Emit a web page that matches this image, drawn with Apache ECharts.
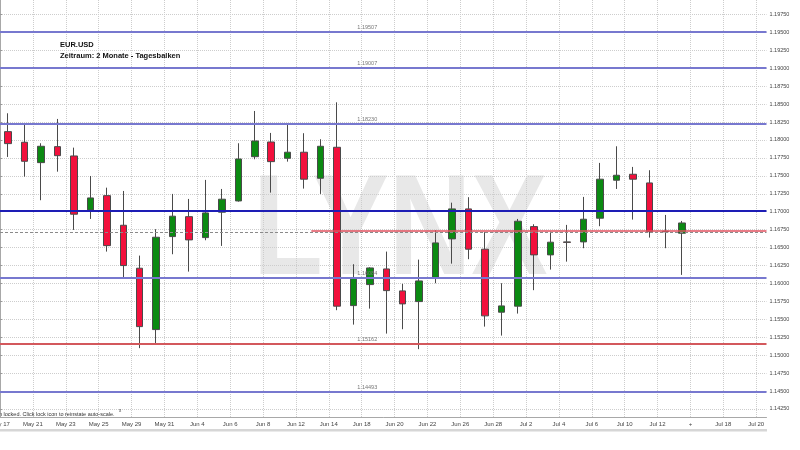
<!DOCTYPE html>
<html>
<head>
<meta charset="utf-8">
<script src="https://cdn.jsdelivr.net/npm/echarts@6/dist/echarts.min.js"></script>
<style>
  html, body { margin: 0; padding: 0; background: #fff; }
  #chart { width: 800px; height: 450px; }
</style>
</head>
<body>
<div id="chart"></div>
<script>
// trading days (daily bars)
const dates = ['May 17', 'May 18', 'May 21', 'May 22', 'May 23', 'May 24', 'May 25', 'May 28', 'May 29', 'May 30',
  'May 31', 'Jun 1', 'Jun 4', 'Jun 5', 'Jun 6', 'Jun 7', 'Jun 8', 'Jun 11', 'Jun 12', 'Jun 13',
  'Jun 14', 'Jun 15', 'Jun 18', 'Jun 19', 'Jun 20', 'Jun 21', 'Jun 22', 'Jun 25', 'Jun 26', 'Jun 27',
  'Jun 28', 'Jun 29', 'Jul 2', 'Jul 3', 'Jul 4', 'Jul 5', 'Jul 6', 'Jul 9', 'Jul 10', 'Jul 11',
  'Jul 12', 'Jul 13']
const opens = [1.18116, 1.17968, 1.17684, 1.17907, 1.17777, 1.17025, 1.17224, 1.16811, 1.16212, 1.15357,
  1.16653, 1.16931, 1.16639, 1.16993, 1.17150, 1.17767, 1.17972, 1.17745, 1.17829, 1.17466,
  1.17898, 1.15691, 1.15984, 1.16202, 1.15896, 1.15747, 1.16073, 1.16621, 1.17039, 1.16477,
  1.15599, 1.15683, 1.16792, 1.16398, 1.16579, 1.16579, 1.16909, 1.17439, 1.17522, 1.17401,
  1.16728, 1.16700]
const closes = [1.17949, 1.17703, 1.17912, 1.17781, 1.16965, 1.17192, 1.16527, 1.16249, 1.15398, 1.16644,
  1.16937, 1.16607, 1.16983, 1.17174, 1.17735, 1.17986, 1.17698, 1.17829, 1.17453, 1.17912,
  1.15683, 1.16077, 1.16216, 1.15900, 1.15715, 1.16035, 1.16565, 1.17039, 1.16477, 1.15548,
  1.15687, 1.16867, 1.16398, 1.16575, 1.16572, 1.16895, 1.17453, 1.17508, 1.17453, 1.16722,
  1.16720, 1.16843]
const lows = [1.17763, 1.17489, 1.17160, 1.17558, 1.16746, 1.16899, 1.16444, 1.16073, 1.15098, 1.15167,
  1.16407, 1.16165, 1.16602, 1.16523, 1.17140, 1.17731, 1.17266, 1.17698, 1.17322, 1.17248,
  1.15627, 1.15426, 1.15649, 1.15301, 1.15362, 1.15084, 1.16003, 1.16276, 1.16338, 1.15398,
  1.15273, 1.15580, 1.15906, 1.16193, 1.16304, 1.16491, 1.16798, 1.17317, 1.16890, 1.16639,
  1.16491, 1.16119]
const highs = [1.18372, 1.18219, 1.17954, 1.18293, 1.17893, 1.17498, 1.17335, 1.17289, 1.16388, 1.16756,
  1.17248, 1.17178, 1.17443, 1.17317, 1.17954, 1.18404, 1.18098, 1.18209, 1.18094, 1.18010,
  1.18525, 1.16268, 1.16226, 1.16444, 1.15994, 1.16332, 1.16742, 1.17126, 1.17202, 1.16714,
  1.16003, 1.16899, 1.16825, 1.16722, 1.16816, 1.17206, 1.17680, 1.17912, 1.17624, 1.17578,
  1.16955, 1.16871]

// x axis: one unit per trading day, labels on day boundaries
const xTickPos = [0, 2, 4, 6, 8, 10, 12, 14, 16, 18, 20, 22, 24, 26, 28, 30, 32, 34, 36, 38, 40, 42, 44, 46]
const xTickLabels = ['May 17', 'May 21', 'May 23', 'May 25', 'May 29', 'May 31', 'Jun 4', 'Jun 6', 'Jun 8', 'Jun 12',
  'Jun 14', 'Jun 18', 'Jun 20', 'Jun 22', 'Jun 26', 'Jun 28', 'Jul 2', 'Jul 4', 'Jul 6', 'Jul 10',
  'Jul 12', '+', 'Jul 18', 'Jul 20']
const yTicks = [1.1425, 1.145, 1.1475, 1.15, 1.1525, 1.155, 1.1575, 1.16, 1.1625, 1.165, 1.1675, 1.17,
  1.1725, 1.175, 1.1775, 1.18, 1.1825, 1.185, 1.1875, 1.19, 1.1925, 1.195, 1.1975]

// horizontal levels drawn on the chart
const blueLevels = [1.19507, 1.19007, 1.18230, 1.16084, 1.14493]
const darkLevel = 1.17020
const redLevel = 1.15162
const priceLine = 1.16735
const priceLineStart = 18.94
const dashedLine = 1.16720
const lastClose = closes[closes.length - 1]

const xMin = 0
const xMax = 46.63
const yMin = 1.14134
const yMax = 1.19951

const FONT = 'Liberation Sans'
const UP = '#0b8a12'
const DOWN = '#f2103c'

const candles = dates.map((d, i) => [i + 0.5, opens[i], closes[i], lows[i], highs[i]])

const levelLabel = {
  show: true,
  position: 'insideMiddleTop',
  distance: 1,
  padding: [0, 32, 0, 0],
  fontSize: 5.5,
  fontFamily: FONT,
  color: '#777',
  formatter: p => p.value.toFixed(5)
}

const markData = []
blueLevels.forEach(v => {
  markData.push({ yAxis: v, lineStyle: { color: '#7778cf', width: 2, type: 'solid' }, label: levelLabel })
})
markData.push({ yAxis: darkLevel, lineStyle: { color: '#1d1db5', width: 2, type: 'solid' }, label: { show: false } })
markData.push({ yAxis: redLevel, lineStyle: { color: '#d3585c', width: 2, type: 'solid' }, label: levelLabel })
markData.push({ yAxis: dashedLine, lineStyle: { color: '#8a8a8a', width: 1, type: [3, 2] }, label: { show: false } })
markData.push([
  { coord: [priceLineStart, priceLine], lineStyle: { color: '#e0505e', width: 1.5, type: 'solid' }, label: { show: false } },
  { coord: [xMax, priceLine] }
])
markData.push({
  yAxis: lastClose,
  lineStyle: { opacity: 0 },
  label: {
    show: true,
    position: 'end',
    distance: 2,
    formatter: lastClose.toFixed(5),
    backgroundColor: '#ffff2e',
    color: '#333',
    fontSize: 6,
    fontFamily: FONT,
    padding: [2, 2, 2, 2]
  }
})

const chart = echarts.init(document.getElementById('chart'))
chart.setOption({
  animation: false,
  backgroundColor: '#fff',
  grid: { left: 0, right: 33.5, top: 0, bottom: 32.7, outerBoundsMode: 'none', containLabel: false },
  xAxis: {
    type: 'value',
    min: xMin,
    max: xMax,
    axisLine: { show: true, lineStyle: { color: '#a8a8a8' } },
    axisTick: { show: false, customValues: xTickPos },
    axisLabel: {
      customValues: xTickPos,
      fontSize: 6,
      fontFamily: FONT,
      color: '#444',
      margin: 4,
      formatter: v => xTickLabels[xTickPos.indexOf(v)] || ''
    },
    splitLine: { show: true, lineStyle: { color: '#cdcdcd', type: [1, 1] } }
  },
  yAxis: {
    type: 'value',
    position: 'right',
    min: yMin,
    max: yMax,
    axisLine: { show: true, lineStyle: { color: '#a8a8a8' } },
    axisTick: { show: true, length: 2, customValues: yTicks, lineStyle: { color: '#999' } },
    axisLabel: {
      customValues: yTicks,
      fontSize: 5.5,
      fontFamily: FONT,
      color: '#444',
      margin: 3,
      formatter: v => v.toFixed(5)
    },
    splitLine: { show: true, lineStyle: { color: '#cdcdcd', type: [1, 1] } }
  },
  graphic: [
    {
      // watermark
      type: 'text', x: 253, y: 235, z: -1, scaleX: 0.8, silent: true,
      style: { text: 'LYNX', font: 'bold 143px "Liberation Sans"', fill: '#e8e8e8', verticalAlign: 'middle' }
    },
    {
      type: 'text', x: 60, y: 45, z: 10,
      style: { text: 'EUR.USD', font: 'bold 7.5px "Liberation Sans"', fill: '#111', verticalAlign: 'middle' }
    },
    {
      type: 'text', x: 60, y: 55.5, z: 10,
      style: { text: 'Zeitraum: 2 Monate - Tagesbalken', font: 'bold 7.5px "Liberation Sans"', fill: '#111', verticalAlign: 'middle' }
    },
    {
      type: 'text', x: -1, y: 414, z: 10,
      style: { text: 'n locked. Click lock icon to reinstate auto-scale.', font: '5.5px "Liberation Sans"', fill: '#333', verticalAlign: 'middle' }
    },
    {
      type: 'text', x: 119, y: 411, z: 10,
      style: { text: 'x', font: '4.5px "Liberation Sans"', fill: '#333', verticalAlign: 'middle' }
    },
    {
      // scrollbar under the date axis
      type: 'rect', z: 10,
      shape: { x: 0, y: 429, width: 767, height: 2.5 },
      style: { fill: '#d6d6d6' }
    }
  ],
  series: [{
    type: 'candlestick',
    data: candles,
    encode: { x: 0, y: [1, 2, 3, 4] },
    barWidth: 7,
    itemStyle: {
      color: UP,
      color0: DOWN,
      borderColor: '#4a4a4a',
      borderColor0: '#4a4a4a',
      borderWidth: 1
    },
    markLine: {
      silent: true,
      symbol: ['none', 'none'],
      precision: 5,
      data: markData
    }
  }]
})
</script>
</body>
</html>
